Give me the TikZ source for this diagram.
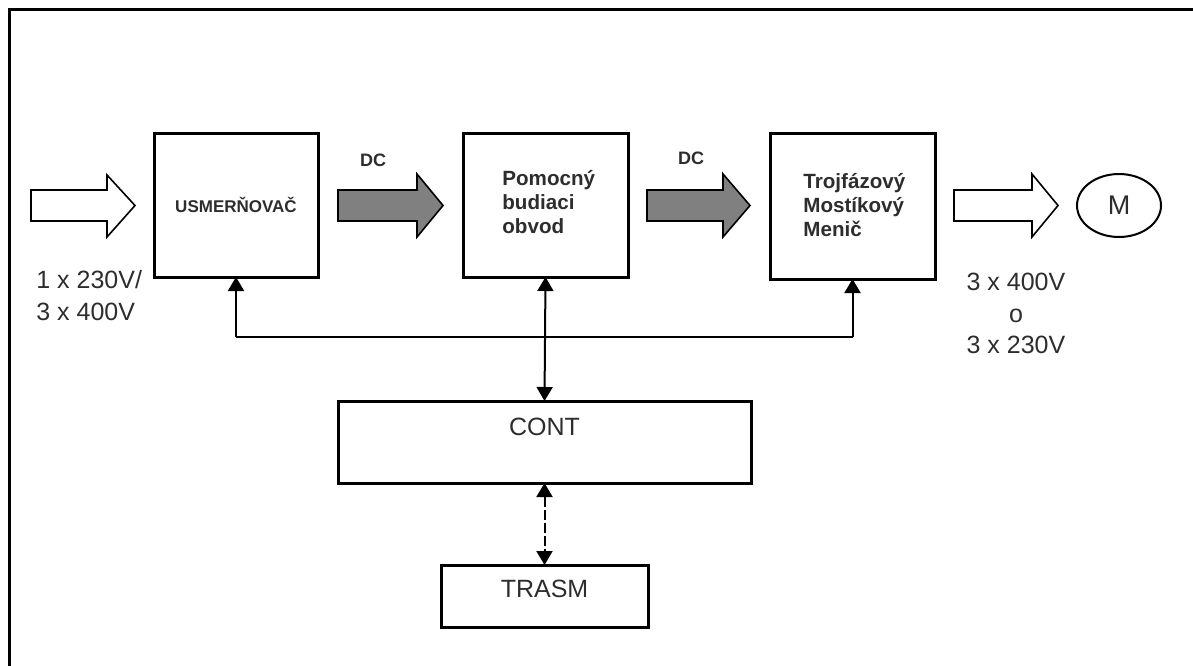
\documentclass[tikz,border=0pt]{standalone}
\usepackage{fontspec}
\setmainfont{Liberation Sans}
\usetikzlibrary{arrows.meta,shapes.geometric}
\definecolor{txt}{RGB}{45,45,45}
\definecolor{dcgray}{RGB}{128,128,128}
\tikzset{
  blockbox/.style={draw=black,line width=1.5pt,fill=white,inner sep=0pt,outer sep=0pt},
  conn/.style={draw=black,line width=1pt},
  tipboth/.style={conn,{Triangle[length=7pt,width=8pt]}-{Triangle[length=7pt,width=8pt]}},
  tipend/.style={conn,-{Triangle[length=7pt,width=8pt]}},
  bigarrow/.style={draw=black,line width=0.8pt,line join=miter},
  boxlabel/.style={font=\fontsize{10.3}{11.8}\selectfont\bfseries,text=txt,align=left,inner sep=0pt},
  biglabel/.style={font=\fontsize{12.5}{16}\selectfont,text=txt,inner sep=0pt},
  dclabel/.style={font=\fontsize{9}{10}\selectfont\bfseries,text=txt,inner sep=0pt},
}
\begin{document}
\begin{tikzpicture}[x=0.5pt,y=-0.5pt]
\useasboundingbox (0,0) rectangle (1193,665);
% outer frame (open to the right and bottom)
\draw[line width=1.5pt] (9,680) -- (9,9) -- (1210,9);

% blocks
\node[blockbox,minimum width=82pt,minimum height=72pt] (usm) at (236,205) {};
\node[font=\fontsize{8.5}{10}\selectfont\bfseries,text=txt,inner sep=0pt] (usmt) at (usm.center) {USMERŇOVAČ};
\node[blockbox,minimum width=82.5pt,minimum height=72pt] (pom) at (545.5,205) {};
\node[boxlabel,anchor=west] (pomt) at (502,202) {Pomocný\\budiaci\\obvod};
\node[blockbox,minimum width=82.5pt,minimum height=73pt] (men) at (852.5,206) {};
\node[boxlabel,anchor=west] (ment) at (803,205) {Trojfázový\\Mostíkový\\Menič};
\node[blockbox,minimum width=206.5pt,minimum height=41pt] (cont) at (544.5,442) {};
\node[biglabel] (contt) at (544.5,427) {CONT};
\node[blockbox,minimum width=103.5pt,minimum height=31pt] (tr) at (544.5,596) {};
\node[biglabel] (trt) at (544.5,589) {TRASM};
\node[draw=black,line width=1pt,ellipse,minimum width=42pt,minimum height=31.5pt,inner sep=0pt,
      font=\fontsize{13.5}{15}\selectfont,text=txt] (mot) at (1119,205.5) {M};

% block arrows
\draw[bigarrow,fill=white] (31,190) -- (107,190) -- (107,175) -- (135,205.5) -- (107,237) -- (107,221) -- (31,221) -- cycle;
\draw[bigarrow,fill=dcgray] (338,190) -- (417,190) -- (417,174) -- (443,205.5) -- (417,237) -- (417,221) -- (338,221) -- cycle;
\draw[bigarrow,fill=dcgray] (647,190) -- (723,190) -- (723,174) -- (750,205.5) -- (723,237) -- (723,221) -- (647,221) -- cycle;
\draw[bigarrow,fill=white] (954,190) -- (1032,190) -- (1032,174) -- (1058,205.5) -- (1032,237) -- (1032,221) -- (954,221) -- cycle;

\node[dclabel] (dc1) at (373,160) {DC};
\node[dclabel] (dc2) at (691,158) {DC};

% voltage labels
\node[biglabel,align=left,anchor=west,font=\fontsize{12.5}{16}\selectfont] (vin) at (36,296) {1 x 230V/\\3 x 400V};
\node[biglabel,align=center,font=\fontsize{12.5}{15.75}\selectfont] (vout) at (1016,313.5) {3 x 400V\\o\\3 x 230V};

% control bus
\coordinate (busL) at (usm.south |- 0,337);
\coordinate (busR) at (men.south |- 0,337);
\draw[conn] (busL) -- (busR);
\draw[tipend] (busL) -- (usm.south);
\draw[tipend] (busR) -- (men.south);
\draw[tipboth] (pom.south) -- (cont.north);
\draw[tipboth,dash pattern=on 5pt off 1.5pt] (cont.south) -- (tr.north);
\end{tikzpicture}
\end{document}
